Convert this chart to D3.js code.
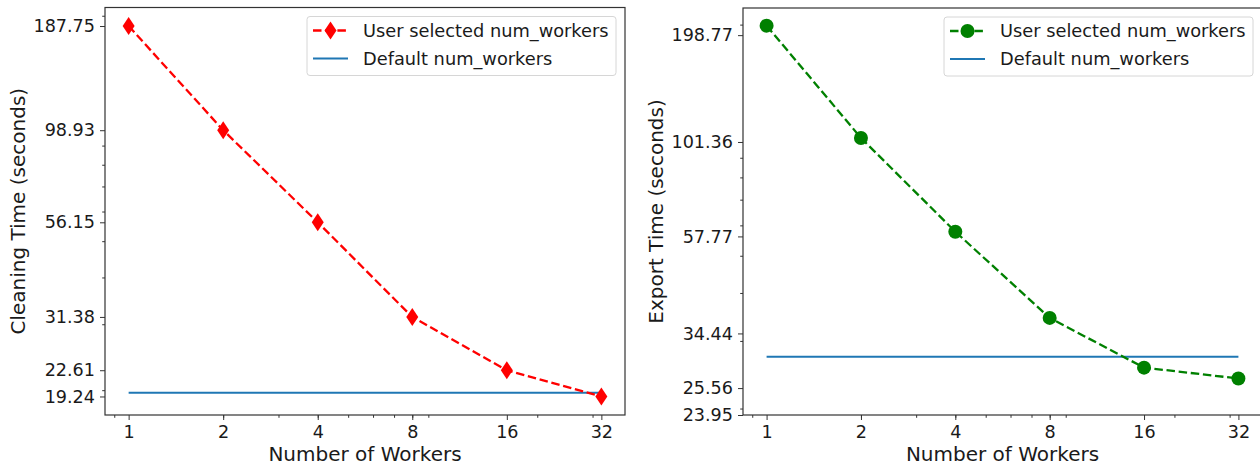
<!DOCTYPE html>
<html>
<head>
<meta charset="utf-8">
<script src="https://cdn.jsdelivr.net/npm/d3@7"></script>
<style>
  body { margin: 0; background: white; }
  text { font-family: "DejaVu Sans", sans-serif; fill: #1a1a1a; }
</style>
</head>
<body>
<div class="canvas"></div>
<script>
const workers = [1, 2, 4, 8, 16, 32];
const xTickLabels = ['1', '2', '4', '8', '16', '32'];

const cleaningTimes = [187.75, 98.93, 56.15, 31.38, 22.61, 19.24];
const cleaningDefault = 19.7;
const cleaningYTicks = [187.75, 98.93, 56.15, 31.38, 22.61, 19.24];
const cleaningYTickLabels = ['187.75', '98.93', '56.15', '31.38', '22.61', '19.24'];

const exportTimes = [198.77, 101.36, 57.77, 34.44, 25.56, 23.95];
const exportDefault = 27.3;
// in the source figure the export ticks sit at the cleaning values but carry the export labels
const exportYTicks = [187.75, 98.93, 56.15, 31.38, 22.61, 19.24];
const exportYTickLabels = ['198.77', '101.36', '57.77', '34.44', '25.56', '23.95'];

const userLabel = 'User selected num_workers';
const defaultLabel = 'Default num_workers';

const xMinor = [0.9, 2, 3, 4, 5, 6, 7, 8, 9, 20, 30];
const yMinor = [20, 30, 40, 50, 60, 70, 80, 90, 200];

const svg = d3.select('.canvas').append('svg').attr('width', 1260).attr('height', 465);

// matplotlib style log limits: 5% margin in log space, widened to hold the ticks
const logDomain = (vals, ticks) => {
  const lo = Math.log(d3.min(vals));
  const hi = Math.log(d3.max(vals));
  const pad = (hi - lo) * 0.05;
  return [Math.min(Math.exp(lo - pad), d3.min(ticks)), Math.max(Math.exp(hi + pad), d3.max(ticks))];
};

const diamond = (w, h) => `M0,${-h / 2}L${w / 2},0L0,${h / 2}L${-w / 2},0Z`;

const drawPanel = cfg => {
  const { left, right, top, bottom } = cfg;
  const g = svg.append('g');

  const x = d3.scaleLog().domain(logDomain(workers, workers)).range([left, right]);
  const y = d3.scaleLog().domain(logDomain(cfg.values, cfg.yTicks)).range([bottom, top]);

  // minor ticks
  g.append('g')
    .attr('transform', `translate(0, ${bottom})`)
    .call(d3.axisBottom(x).tickValues(xMinor.filter(v => v >= x.domain()[0] && v <= x.domain()[1])).tickSize(2.8).tickFormat(''))
    .call(a => a.select('.domain').remove());
  g.append('g')
    .attr('transform', `translate(${left}, 0)`)
    .call(d3.axisLeft(y).tickValues(yMinor.filter(v => v >= y.domain()[0] && v <= y.domain()[1])).tickSize(2.8).tickFormat(''))
    .call(a => a.select('.domain').remove());

  // major ticks
  const xAxis = g.append('g')
    .attr('transform', `translate(0, ${bottom})`)
    .call(d3.axisBottom(x).tickValues(workers).tickFormat((d, i) => xTickLabels[i]).tickSize(5).tickPadding(5));
  xAxis.select('.domain').remove();
  xAxis.selectAll('text').style('font-size', '17.6px').attr('dy', '0.74em');

  const yAxis = g.append('g')
    .attr('transform', `translate(${left}, 0)`)
    .call(d3.axisLeft(y).tickValues(cfg.yTicks).tickFormat((d, i) => cfg.yTickLabels[i]).tickSize(5).tickPadding(5));
  yAxis.select('.domain').remove();
  yAxis.selectAll('text').style('font-size', '17.6px');
  g.selectAll('.tick line').attr('stroke', '#333').attr('stroke-width', 1);

  // default line
  g.append('path')
    .datum(workers)
    .attr('fill', 'none')
    .attr('stroke', '#1f77b4')
    .attr('stroke-width', 2)
    .attr('d', d3.line().x(d => x(d)).y(() => y(cfg.defaultValue)));

  // user selected line
  const pts = workers.map((w, i) => ({ w, v: cfg.values[i] }));
  g.append('path')
    .datum(pts)
    .attr('fill', 'none')
    .attr('stroke', cfg.color)
    .attr('stroke-width', 2.3)
    .attr('stroke-dasharray', '8.5,3.7')
    .attr('d', d3.line().x(d => x(d.w)).y(d => y(d.v)));

  const drawMarker = (sel, cx, cy) => {
    if (cfg.marker === 'diamond') {
      sel.append('path').attr('d', diamond(12, 18)).attr('transform', `translate(${cx},${cy})`).attr('fill', cfg.color);
    } else {
      sel.append('circle').attr('cx', cx).attr('cy', cy).attr('r', 7).attr('fill', cfg.color);
    }
  };
  pts.forEach(d => drawMarker(g, x(d.w), y(d.v)));

  // frame
  g.append('rect')
    .attr('x', left).attr('y', top)
    .attr('width', right - left).attr('height', bottom - top)
    .attr('fill', 'none').attr('stroke', '#333').attr('stroke-width', 1.2);

  // axis titles
  g.append('text')
    .attr('x', (left + right) / 2)
    .attr('y', 461)
    .attr('text-anchor', 'middle')
    .style('font-size', '20px')
    .text('Number of Workers');
  g.append('text')
    .attr('transform', `translate(${cfg.yLabelX}, ${(top + bottom) / 2}) rotate(-90)`)
    .attr('text-anchor', 'middle')
    .style('font-size', '20px')
    .text(cfg.yLabel);

  // legend
  const lw = 309, lh = 59;
  const lx = right - 9 - lw, ly = top + 9;
  const legend = g.append('g').attr('transform', `translate(${lx}, ${ly})`);
  legend.append('rect')
    .attr('width', lw).attr('height', lh).attr('rx', 3)
    .attr('fill', 'white').attr('fill-opacity', 0.8)
    .attr('stroke', '#d6d6d6');
  legend.append('line')
    .attr('x1', 6).attr('x2', 41).attr('y1', 14).attr('y2', 14)
    .attr('stroke', cfg.color).attr('stroke-width', 2.3).attr('stroke-dasharray', '8.5,3.7');
  drawMarker(legend, 23.5, 14);
  legend.append('line')
    .attr('x1', 6).attr('x2', 41).attr('y1', 42).attr('y2', 42)
    .attr('stroke', '#1f77b4').attr('stroke-width', 2);
  legend.append('text').attr('x', 56).attr('y', 14).attr('dy', '0.35em').style('font-size', '17.8px').text(userLabel);
  legend.append('text').attr('x', 56).attr('y', 42).attr('dy', '0.35em').style('font-size', '17.8px').text(defaultLabel);
};

drawPanel({
  left: 105, right: 625, top: 7.5, bottom: 415,
  values: cleaningTimes, defaultValue: cleaningDefault,
  yTicks: cleaningYTicks, yTickLabels: cleaningYTickLabels,
  color: '#ff0000', marker: 'diamond',
  yLabel: 'Cleaning Time (seconds)', yLabelX: 25
});

drawPanel({
  left: 743, right: 1262, top: 8, bottom: 415,
  values: exportTimes, defaultValue: exportDefault,
  yTicks: exportYTicks, yTickLabels: exportYTickLabels,
  color: '#008000', marker: 'circle',
  yLabel: 'Export Time (seconds)', yLabelX: 663
});
</script>
</body>
</html>
